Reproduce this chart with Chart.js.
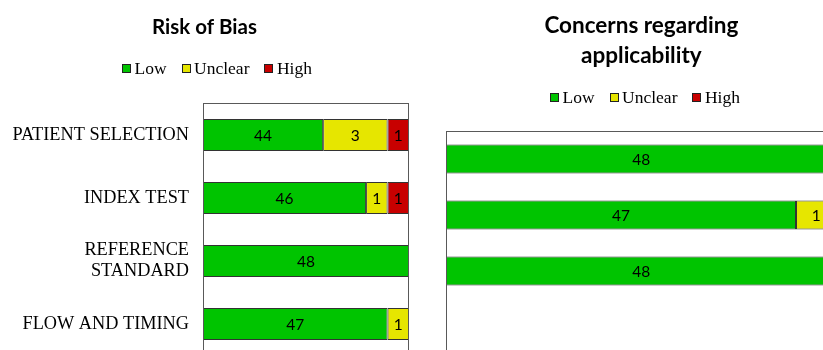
<!DOCTYPE html>
<html>
<head>
<meta charset="utf-8">
<script src="https://cdn.jsdelivr.net/npm/chart.js@4/dist/chart.umd.min.js"></script>
<style>
  html, body { margin: 0; padding: 0; background: #fff; width: 823px; height: 350px; overflow: hidden; position: relative; }
  canvas { position: absolute; top: 0; }
  #bias { left: 0; }
  #appl { left: 430px; }
</style>
</head>
<body>
<canvas id="bias" width="432" height="360"></canvas>
<canvas id="appl" width="424" height="360"></canvas>
<script>
// QUADAS-2 domains and study counts per judgement
const domains = ['PATIENT SELECTION', 'INDEX TEST', ['REFERENCE', 'STANDARD'], 'FLOW AND TIMING'];
const levels = ['Low', 'Unclear', 'High'];

const biasLow     = [44, 46, 48, 47];
const biasUnclear = [3, 1, null, 1];
const biasHigh    = [1, 1, null, null];

const applLow     = [48, 47, 48, null];
const applUnclear = [null, 1, null, null];
const applHigh    = [null, null, null, null];

const levelColors = ['#00C400', '#E6E600', '#C80000'];
const axisMin = 38.4;
const axisMax = 48;

// Row of small coloured keys under the title
const keyRow = {
  id: 'keyRow',
  afterDraw(chart, args, opts) {
    const ctx = chart.ctx;
    ctx.save();
    ctx.font = '17.5px "Liberation Serif"';
    ctx.textBaseline = 'middle';
    ctx.textAlign = 'left';
    const box = 9, gap = 3.5, spacing = 15;
    const items = chart.data.datasets.map(ds => ({
      text: ds.label, color: ds.backgroundColor, w: ctx.measureText(ds.label).width
    }));
    const total = items.reduce((s, it) => s + box + gap + it.w, 0) + spacing * (items.length - 1);
    let x = Math.round(chart.width / 2 + opts.dx - total / 2);
    const y = opts.y;
    items.forEach(it => {
      const bx = Math.round(x), by = Math.round(y - box / 2);
      ctx.fillStyle = it.color;
      ctx.fillRect(bx, by, box, box);
      ctx.strokeStyle = '#222';
      ctx.lineWidth = 1;
      ctx.strokeRect(bx + 0.5, by + 0.5, box - 1, box - 1);
      ctx.fillStyle = '#000';
      ctx.fillText(it.text, x + box + gap, y + 1);
      x += box + gap + it.w + spacing;
    });
    ctx.restore();
  }
};

// Count written in the middle of the visible part of each bar segment
const valueText = {
  id: 'valueText',
  afterDatasetsDraw(chart) {
    const { ctx, chartArea: a } = chart;
    ctx.save();
    ctx.beginPath();
    ctx.rect(a.left, a.top, a.right - a.left, a.bottom - a.top);
    ctx.clip();
    ctx.font = '15.5px Lato';
    ctx.fillStyle = '#000';
    ctx.textAlign = 'center';
    ctx.textBaseline = 'middle';
    chart.data.datasets.forEach((ds, i) => {
      chart.getDatasetMeta(i).data.forEach((el, j) => {
        const v = ds.data[j];
        if (v == null) return;
        const { x, y, base } = el.getProps(['x', 'y', 'base'], true);
        const l = Math.max(Math.min(x, base), a.left);
        const r = Math.min(Math.max(x, base), a.right);
        ctx.fillText(String(v), (l + r) / 2, y + 1);
      });
    });
    ctx.restore();
  }
};

// Plot-area frame
const frame = {
  id: 'frame',
  afterDatasetsDraw(chart) {
    const { ctx, chartArea: a } = chart;
    ctx.save();
    ctx.strokeStyle = '#595959';
    ctx.lineWidth = 1;
    ctx.strokeRect(Math.round(a.left) + 0.5, Math.round(a.top) + 0.5,
                   Math.round(a.right - a.left) - 1, Math.round(a.bottom - a.top));
    ctx.restore();
  }
};

function makeSets(low, unclear, high, thickness) {
  return [low, unclear, high].map((vals, k) => ({
    label: levels[k],
    data: vals,
    backgroundColor: levelColors[k],
    borderColor: '#333',
    borderWidth: 1,
    borderSkipped: false,
    barPercentage: thickness,
    categoryPercentage: 1
  }));
}

function makeChart(id, opts) {
  return new Chart(document.getElementById(id), {
    type: 'bar',
    data: { labels: domains, datasets: makeSets(opts.low, opts.unclear, opts.high, opts.thickness) },
    plugins: [frame, valueText, keyRow],
    options: {
      indexAxis: 'y',
      responsive: false,
      animation: false,
      layout: { padding: opts.padding },
      scales: {
        x: { stacked: true, min: axisMin, max: axisMax, display: false },
        y: opts.yAxis
      },
      plugins: {
        legend: { display: false },
        tooltip: { enabled: false },
        title: {
          display: true,
          text: opts.title,
          color: '#000',
          font: { family: 'Lato', size: opts.titleSize, weight: 'bold', lineHeight: 1.36 },
          padding: opts.titlePadding
        },
        keyRow: opts.key
      }
    }
  });
}

makeChart('bias', {
  low: biasLow, unclear: biasUnclear, high: biasHigh,
  thickness: 0.51,
  title: 'Risk of Bias',
  titleSize: 20.5,
  titlePadding: { top: 13, bottom: 62.6 },
  padding: { left: 0, right: 23, top: 0, bottom: 4.5 },
  key: { y: 68, dx: 1 },
  yAxis: {
    stacked: true,
    grid: { display: false, drawTicks: false },
    border: { display: false },
    ticks: {
      color: '#000',
      padding: 14,
      font: { family: 'Liberation Serif', size: 18.3, lineHeight: 1.16 }
    },
    afterFit(scale) {
      scale.width = 203;
      scale.paddingTop = 0;
      scale.paddingBottom = 0;
    }
  }
});

makeChart('appl', {
  low: applLow, unclear: applUnclear, high: applHigh,
  thickness: 0.52,
  title: ['Concerns regarding', 'applicability'],
  titleSize: 22.5,
  titlePadding: { top: 10, bottom: 59.8 },
  padding: { left: 16, right: 17.3, top: 0, bottom: 5 },
  key: { y: 97, dx: 3 },
  yAxis: { stacked: true, display: false }
});
</script>
</body>
</html>
